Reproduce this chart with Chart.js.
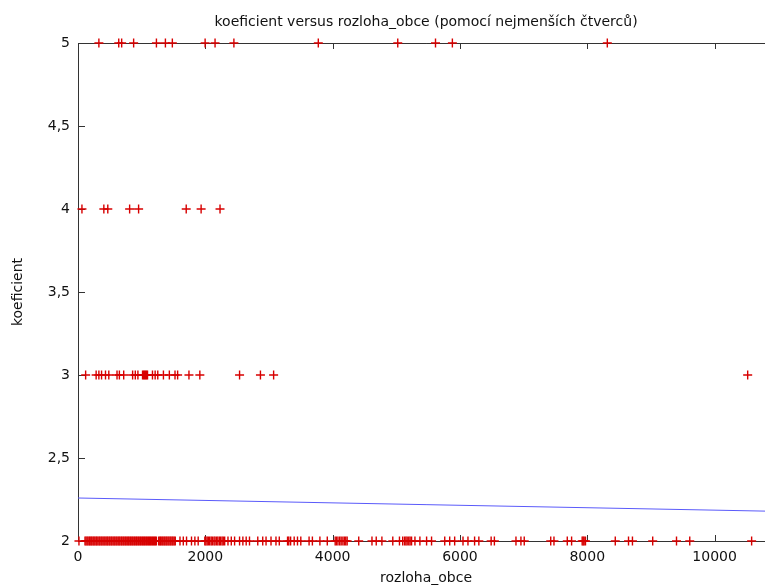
<!DOCTYPE html>
<html>
<head>
<meta charset="utf-8">
<script src="https://cdn.jsdelivr.net/npm/chart.js@4"></script>
<style>
  html, body { margin: 0; padding: 0; background: #fff; overflow: hidden; }
  #wrap { width: 765px; height: 587px; overflow: hidden; }
</style>
</head>
<body>
<div id="wrap"><canvas id="chart" width="780" height="587"></canvas></div>
<script>
// rozloha_obce values for each koeficient level
var row5X = [328, 640, 686, 874, 1232, 1373, 1482, 1997, 2153, 2449, 3775, 5023, 5616, 5881, 8315];
var row4X = [62, 406, 468, 811, 952, 1700, 1934, 2231];
var row3X = [120, 285, 328, 370, 432, 484, 613, 650, 718, 858, 900, 941, 1014, 1030, 1045, 1061,
  1076, 1092, 1170, 1212, 1253, 1342, 1435, 1524, 1565, 1743, 1914, 2538, 2866, 3073, 10520];
var row2X = [15, 110, 126, 143, 158, 177, 190, 206, 219, 237, 251, 266, 284, 296, 313, 331, 344,
  362, 376, 393, 409, 424, 441, 457, 470, 489, 502, 520, 533, 551, 567, 581, 599, 613, 631, 646,
  660, 679, 692, 710, 724, 742, 756, 773, 789, 803, 821, 835, 852, 866, 884, 898, 916, 929, 947,
  961, 979, 993, 1011, 1025, 1042, 1056, 1074, 1088, 1106, 1120, 1137, 1151, 1169, 1183, 1201,
  1215, 1232, 1268, 1285, 1299, 1317, 1332, 1350, 1364, 1382, 1396, 1414, 1429, 1447, 1461, 1479,
  1493, 1511, 1528, 1602, 1654, 1705, 1783, 1836, 1888, 1992, 2009, 2029, 2048, 2069, 2092, 2111,
  2136, 2153, 2177, 2197, 2221, 2240, 2263, 2282, 2304, 2356, 2408, 2460, 2538, 2590, 2642, 2694,
  2824, 2902, 2954, 3032, 3110, 3162, 3292, 3311, 3340, 3396, 3448, 3500, 3630, 3682, 3800, 3916,
  4040, 4061, 4084, 4111, 4134, 4161, 4184, 4206, 4228, 4410, 4618, 4685, 4774, 4945, 5050, 5101,
  5130, 5151, 5171, 5196, 5217, 5240, 5293, 5371, 5476, 5554, 5761, 5839, 5917, 6048, 6126, 6230,
  6297, 6490, 6541, 6880, 6958, 7010, 7426, 7477, 7686, 7754, 7920, 7936, 7951, 7972, 8440, 8648,
  8710, 9028, 9402, 9610, 10582];

// least squares fit line endpoints
var fitX = [0, 10935];
var fitY = [2.259, 2.179];

var xMax = 10935;
var xTicks = [0, 2000, 4000, 6000, 8000, 10000];
var yTicks = [2, 2.5, 3, 3.5, 4, 4.5, 5];

function toPoints(xs, y) {
  return xs.map(function(x) { return { x: x, y: y }; });
}
var points = [].concat(toPoints(row5X, 5), toPoints(row4X, 4), toPoints(row3X, 3), toPoints(row2X, 2));
var fitPoints = fitX.map(function(x, i) { return { x: x, y: fitY[i] }; });

var FONT = 'DejaVu Sans, Verdana, sans-serif';
var AXIS = '#333';
var TEXT = '#111';

// frame on top and ticks pointing into the plot, gnuplot style
var framePlugin = {
  id: 'frame',
  beforeDatasetsDraw: function(chart) {
    var ctx = chart.ctx, a = chart.chartArea;
    var xs = chart.scales.x, ys = chart.scales.y;
    ctx.save();
    ctx.strokeStyle = AXIS;
    ctx.lineWidth = 1;
    ctx.beginPath();
    ctx.moveTo(a.left, a.top + 0.5);
    ctx.lineTo(a.right, a.top + 0.5);
    xs.ticks.forEach(function(t) {
      if (t.value <= 0) return;
      var px = Math.round(xs.getPixelForValue(t.value)) + 0.5;
      ctx.moveTo(px, a.bottom); ctx.lineTo(px, a.bottom - 6);
      ctx.moveTo(px, a.top); ctx.lineTo(px, a.top + 6);
    });
    ys.ticks.forEach(function(t) {
      var py = Math.round(ys.getPixelForValue(t.value)) + 0.5;
      ctx.moveTo(a.left, py); ctx.lineTo(a.left + 7, py);
    });
    ctx.stroke();
    ctx.restore();
  },
  afterDraw: function(chart) {
    var ctx = chart.ctx, a = chart.chartArea;
    ctx.save();
    ctx.fillStyle = TEXT;
    ctx.font = '14px ' + FONT;
    ctx.textAlign = 'center';
    ctx.textBaseline = 'alphabetic';
    ctx.fillText('koeficient versus rozloha_obce (pomocí nejmenších čtverců)', (a.left + a.right) / 2, 26);
    ctx.restore();
  }
};

new Chart(document.getElementById('chart').getContext('2d'), {
  data: {
    datasets: [{
      type: 'scatter',
      label: 'koeficient',
      data: points,
      pointStyle: 'cross',
      pointRadius: 4.5,
      pointBorderWidth: 1.4,
      pointBorderColor: 'rgb(215,0,0)',
      pointBackgroundColor: 'rgb(215,0,0)',
      clip: false
    }, {
      type: 'line',
      label: 'fit',
      data: fitPoints,
      borderColor: 'rgb(90,90,250)',
      borderWidth: 1,
      pointRadius: 0,
      fill: false
    }]
  },
  options: {
    responsive: false,
    animation: false,
    events: [],
    layout: { padding: { top: 43, left: 0, right: 0, bottom: 0 } },
    plugins: {
      legend: { display: false },
      title: { display: false },
      tooltip: { enabled: false }
    },
    scales: {
      x: {
        type: 'linear',
        min: 0,
        max: xMax,
        grid: { drawOnChartArea: false, drawTicks: false },
        border: { display: true, color: AXIS },
        afterBuildTicks: function(s) {
          s.ticks = xTicks.map(function(v) { return { value: v }; });
        },
        ticks: {
          padding: 8,
          maxRotation: 0,
          autoSkip: false,
          color: TEXT,
          font: { family: FONT, size: 14 },
          callback: function(v) { return String(v); }
        },
        title: {
          display: true,
          text: 'rozloha_obce',
          color: TEXT,
          padding: { top: 0, bottom: 0 },
          font: { family: FONT, size: 14 }
        },
        afterFit: function(s) { s.height = 46; }
      },
      y: {
        type: 'linear',
        min: 2,
        max: 5,
        grid: { drawOnChartArea: false, drawTicks: false },
        border: { display: true, color: AXIS },
        afterBuildTicks: function(s) {
          s.ticks = yTicks.map(function(v) { return { value: v }; });
        },
        ticks: {
          padding: 8,
          color: TEXT,
          font: { family: FONT, size: 14 },
          callback: function(v) { return String(v).replace('.', ','); }
        },
        title: {
          display: true,
          text: 'koeficient',
          color: TEXT,
          padding: { top: 10, bottom: 0 },
          font: { family: FONT, size: 14 }
        },
        afterFit: function(s) { s.width = 78; }
      }
    }
  },
  plugins: [framePlugin]
});
</script>
</body>
</html>
